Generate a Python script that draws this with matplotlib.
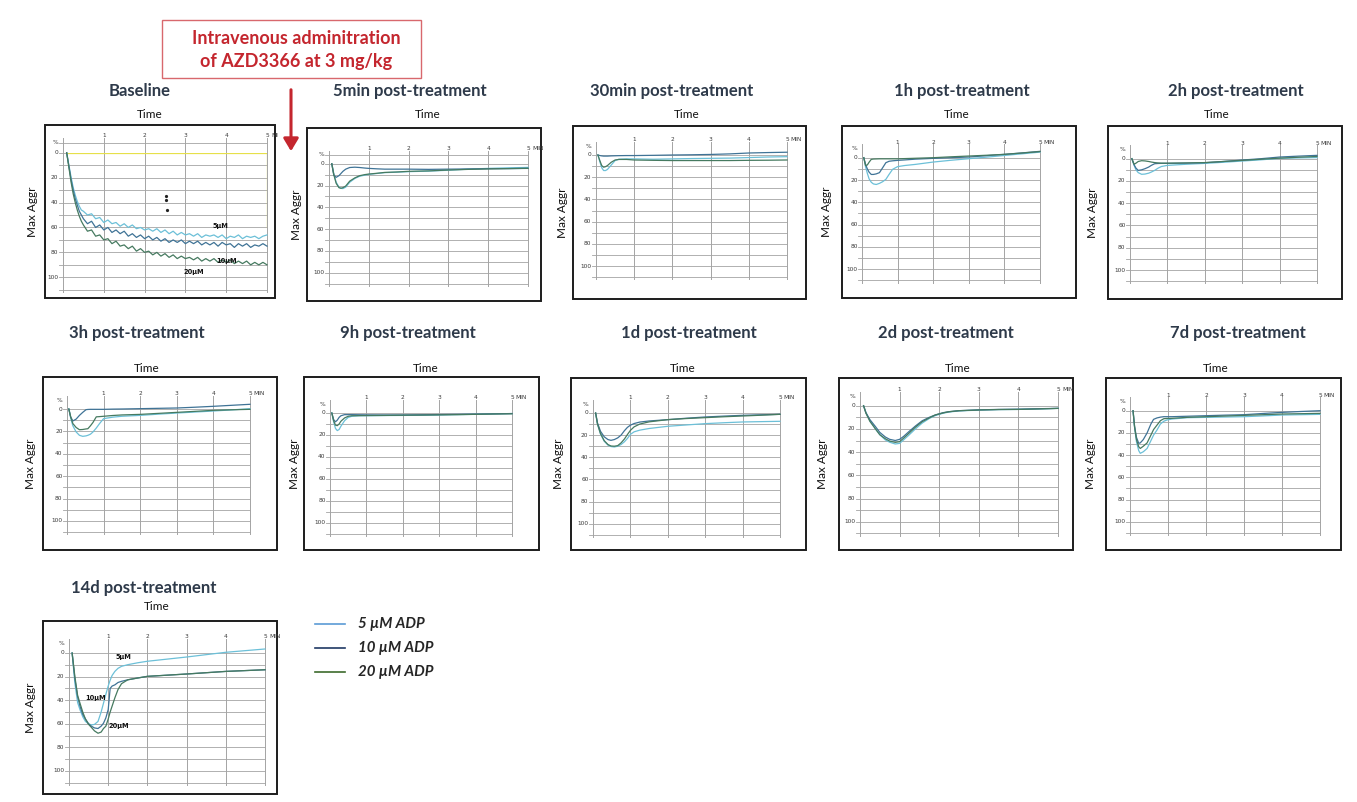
import matplotlib
matplotlib.use("Agg")
import matplotlib.pyplot as plt
from matplotlib.patches import Rectangle, FancyArrowPatch
from matplotlib.lines import Line2D

# ---------------------------------------------------------------- data ----
concentrations = ["5 µM ADP", "10 µM ADP", "20 µM ADP"]
panel_titles = ["Baseline", "5min post-treatment", "30min post-treatment",
                "1h post-treatment", "2h post-treatment", "3h post-treatment",
                "9h post-treatment", "1d post-treatment", "2d post-treatment",
                "7d post-treatment", "14d post-treatment"]
y_tick_values = [0, 20, 40, 60, 80, 100]
x_tick_values = [1, 2, 3, 4, 5]

# Baseline (aggregation %, time in minutes)
t_base = [0.09, 0.15, 0.2, 0.25, 0.3, 0.35, 0.4, 0.45, 0.5,
          0.6, 0.7, 0.8, 0.9, 1.0, 1.1, 1.2, 1.3, 1.4, 1.5,
          1.6, 1.7, 1.8, 1.9, 2.0, 2.1, 2.2, 2.3, 2.4, 2.5,
          2.6, 2.7, 2.8, 2.9, 3.0, 3.1, 3.2, 3.3, 3.4, 3.5,
          3.6, 3.7, 3.8, 3.9, 4.0, 4.1, 4.2, 4.3, 4.4, 4.5,
          4.6, 4.7, 4.8, 4.9, 5.0]
base_5 = [0, 11, 20, 28, 34, 39, 43, 46, 47,
          50, 49, 53, 52, 56, 54, 57, 56, 59, 57,
          60, 58, 61, 60, 62, 61, 63, 61, 64, 62,
          65, 63, 66, 64, 66, 65, 67, 65, 68, 66,
          67, 66, 68, 66, 69, 67, 68, 66, 69, 67,
          68, 67, 69, 67, 66]
base_10 = [0, 12, 22, 30, 37, 42, 47, 50, 53,
           57, 55, 60, 58, 62, 60, 64, 62, 65, 63,
           67, 65, 68, 66, 69, 67, 70, 68, 71, 69,
           72, 70, 72, 70, 73, 71, 73, 71, 74, 72,
           74, 72, 75, 72, 74, 73, 76, 73, 75, 73,
           76, 74, 75, 73, 75]
base_20 = [0, 13, 24, 33, 40, 46, 51, 55, 58,
           63, 62, 67, 66, 70, 69, 73, 71, 75, 74,
           77, 75, 79, 77, 80, 79, 82, 80, 83, 81,
           84, 82, 85, 83, 85, 84, 86, 84, 87, 85,
           87, 85, 88, 86, 88, 86, 89, 87, 89, 87,
           90, 88, 90, 88, 90]

t_5min = [0.07, 0.12, 0.18, 0.25, 0.3, 0.35, 0.42, 0.52, 0.65, 0.77, 0.9,
          1.0, 1.2, 1.4, 1.7, 2.0, 2.5, 3.0, 3.5, 4.0, 4.5, 5.0]
m5_5 = [0, 9, 17, 21.5, 22.6, 22.8, 21.5, 17, 13.5, 11.5, 10.5,
        9.8, 9, 8.2, 7.8, 7.3, 6.8, 6, 5, 4.3, 3.8, 3.4]
m5_10 = [0, 10.5, 12.5, 11, 9, 7, 5, 3.5, 3.2, 3.5, 4,
         4.3, 4.7, 5, 5, 5, 5.2, 5, 4.8, 4.6, 4.5, 4.3]
m5_20 = [0, 10, 18, 22, 22.5, 22, 20.5, 16, 13, 11, 10,
         9.5, 8.8, 8, 7.6, 7.0, 6.6, 5.8, 5.2, 4.8, 4.5, 4.2]

t_30min = [0.05, 0.1, 0.15, 0.2, 0.25, 0.3, 0.4, 0.5, 0.6, 0.8, 1.0,
           1.5, 2.0, 2.5, 3.0, 3.5, 4.0, 4.5, 5.0]
m30_5 = [0, 6, 11.5, 14, 14, 13, 9, 5, 3.8, 3.5, 3.5,
         3.8, 3.5, 3.2, 3, 2.8, 2.3, 1.8, 1.5]
m30_10 = [0, 0.5, 0.8, 1, 1, 1, 0.8, 0.7, 0.6, 0.5, 0.5,
          0.3, 0, -0.2, -0.5, -1, -1.8, -2.2, -2.5]
m30_20 = [0, 5, 9.5, 11, 10.5, 9.5, 6.5, 4.5, 4, 4, 4.5,
          4.8, 5, 5, 5, 5, 4.8, 4.7, 4.5]

t_1h = [0.05, 0.1, 0.15, 0.2, 0.26, 0.32, 0.4, 0.49, 0.58, 0.67, 0.76,
        0.86, 1.0, 1.2, 1.5, 2.0, 2.5, 3.0, 3.5, 4.0, 4.5, 5.0]
h1_5 = [0, 8, 14, 19, 22, 23.5, 24, 23, 21.5, 19.4, 15,
        10.4, 8, 7, 6, 3.9, 2.3, 0.9, -0.5, -2, -3.5, -5]
h1_10 = [0, 6, 10, 13, 15, 15, 14.5, 13.4, 9, 4.5, 3.2,
         2.8, 2.4, 2, 1.3, 0.6, 0, -0.6, -1.8, -3, -4.3, -5.7]
h1_20 = [0, 7, 6.5, 4, 1.5, 1.2, 1.1, 1, 1, 1, 1,
         1, 1, 0.8, 0.5, 0, -0.8, -1.5, -2.2, -3, -4.2, -5.5]

t_2h = [0.05, 0.11, 0.16, 0.22, 0.31, 0.4, 0.5, 0.57, 0.66, 0.75, 0.84,
        1.0, 1.5, 2.0, 2.5, 3.0, 3.5, 4.0, 4.5, 5.0]
h2_5 = [0, 6, 10, 12.5, 14, 13.8, 13, 12, 10.5, 8.5, 7,
        6, 5, 4.2, 3.2, 2.1, 1, -0.3, -0.7, -1]
h2_10 = [0, 5.5, 8.5, 10.5, 10, 9, 7.5, 6, 4.5, 4.3, 4.2,
         4.2, 4, 3.6, 2.5, 1.2, 0, -1.5, -2.3, -3]
h2_20 = [0, 5, 4, 2.5, 1.8, 2, 2.5, 3, 3.5, 3.8, 4,
         4, 3.8, 3.5, 2.5, 1.5, 0.5, -0.5, -1.3, -2]

t_3h = [0.05, 0.1, 0.16, 0.25, 0.34, 0.43, 0.52, 0.57, 0.64, 0.71, 0.8,
        0.89, 1.0, 1.25, 1.5, 2.0, 2.5, 3.0, 3.5, 4.0, 4.5, 5.0]
h3_5 = [0, 8, 15, 20.5, 23.5, 24.4, 24, 23.5, 22.5, 20.5, 17,
        13, 8.6, 7.3, 6.5, 5.7, 4.6, 3.6, 2.7, 1.8, 0.8, -0.3]
h3_10 = [0, 7, 10.7, 9, 5.7, 3, 0.6, 0.4, 0.3, 0.3, 0.3,
         0.3, 0.3, 0.1, 0, -0.3, -0.6, -0.9, -1.6, -2.4, -3.3, -4.2]
h3_20 = [0, 7, 13, 16.5, 18.5, 18.3, 17.8, 17.6, 15, 12, 7,
         6.8, 6.5, 5.8, 5.3, 4.8, 3.9, 3, 2.1, 1.2, 0.7, 0.3]

t_9h = [0.05, 0.1, 0.15, 0.2, 0.25, 0.3, 0.4, 0.5, 0.6, 0.8, 1.0,
        1.5, 2.0, 2.5, 3.0, 3.5, 4.0, 4.5, 5.0]
h9_5 = [0, 8, 14, 16, 15, 12, 7, 4, 3, 2.5, 2.5,
        2.3, 2.2, 2, 1.8, 1.5, 1.2, 0.8, 0.5]
h9_10 = [0, 6, 8, 6.5, 4, 2.5, 1.5, 1.5, 1.5, 1.6, 1.7,
         1.8, 1.8, 1.6, 1.4, 1.2, 1, 0.8, 0.5]
h9_20 = [0, 7, 11, 11.5, 10, 7.5, 4.5, 3, 2.5, 2.4, 2.3,
         2.2, 2, 1.9, 1.7, 1.5, 1.2, 0.9, 0.7]

t_1d = [0.07, 0.12, 0.2, 0.3, 0.4, 0.48, 0.57, 0.66, 0.75, 0.84, 0.92,
        1.0, 1.1, 1.25, 1.5, 2.0, 2.5, 3.0, 3.5, 4.0, 4.5, 5.0]
d1_5 = [0, 10, 19, 25.5, 29, 30.3, 30.7, 30, 28.5, 26, 23,
        19.3, 17, 15.5, 14, 12, 10.8, 9.6, 8.8, 8.1, 7.8, 7.5]
d1_10 = [0, 9, 16.5, 21.5, 24, 24.7, 24, 22.5, 20, 16, 13,
         11, 9.5, 8.2, 7.2, 6, 4.7, 3.6, 2.8, 2.1, 1.6, 1.2]
d1_20 = [0, 10, 18.5, 25, 28.5, 29.8, 30, 29.5, 27, 23.5, 19.5,
         15.7, 12.5, 10, 8, 6, 5, 4.2, 3.4, 2.7, 2, 1.2]

t_2d = [0.09, 0.15, 0.25, 0.39, 0.5, 0.64, 0.75, 0.89, 1.0, 1.1, 1.23,
        1.4, 1.57, 1.75, 1.9, 2.1, 2.24, 2.5, 3.0, 3.5, 4.0, 4.5, 5.0]
d2_5 = [0, 6, 13, 20, 25, 29.5, 31.5, 33, 32.5, 29.5, 25.5,
        20, 15, 11, 8.5, 6.5, 5.5, 4.5, 3.8, 3.4, 3.2, 2.8, 2.3]
d2_10 = [0, 6, 12, 18, 23, 27, 29, 30, 29, 26.5, 22.5,
         17.5, 13, 10, 8, 6, 5.2, 4.3, 3.6, 3.2, 3, 2.6, 2.3]
d2_20 = [0, 6.5, 13.5, 20, 25, 28.5, 30.5, 31.6, 31, 28, 23.9,
         18.5, 13.8, 10.5, 8, 6.2, 5.2, 4.3, 3.7, 3.3, 3.2, 2.8, 2.3]

t_7d = [0.08, 0.12, 0.17, 0.23, 0.27, 0.35, 0.45, 0.55, 0.62, 0.71, 0.8,
        0.89, 0.97, 1.1, 1.5, 2.0, 2.5, 3.0, 3.5, 4.0, 4.5, 5.0]
d7_5 = [0, 15, 28, 36, 38.4, 37, 34, 27, 22, 17.4, 12,
        9.5, 8.4, 7.5, 6.3, 6, 5.7, 5.4, 4.7, 3.9, 3.6, 3.3]
d7_10 = [0, 14, 24, 29.4, 29, 26, 20, 12, 7.8, 6.5, 5.8,
         5.4, 5.4, 5.4, 5, 4.5, 4, 3.6, 2.5, 1.5, 0.7, 0]
d7_20 = [0, 14.5, 26, 32.5, 34, 32, 29, 22, 17, 13, 9,
         7.2, 7, 6.9, 6, 5.4, 4.8, 4.2, 3.6, 3, 2.7, 2.4]

t_14d = [0.08, 0.15, 0.22, 0.28, 0.35, 0.42, 0.5, 0.57, 0.65, 0.74, 0.82,
         0.88, 0.94, 1.0, 1.05, 1.1, 1.17, 1.25, 1.34, 1.5, 1.75, 2.0,
         2.5, 3.0, 3.5, 4.0, 4.5, 5.0]
d14_5 = [0, 25.5, 42, 48, 54, 58, 60, 61, 60.5, 58, 50,
         42.5, 35, 28, 23, 19, 15.6, 13, 11.3, 9.9, 8.3, 7,
         5.2, 3.4, 1.4, -0.6, -2, -3.4]
d14_10 = [0, 22, 37, 45, 52, 56, 60, 62, 63.5, 64, 62,
          59.5, 55, 48, 30, 28, 27, 25, 24, 22.7, 21.2, 19.8,
          18.8, 17.8, 16.7, 15.6, 14.9, 14.2]
d14_20 = [0, 20, 36, 42.5, 50, 56, 60.5, 63, 66, 68, 67,
          64, 62, 56, 50, 45, 38, 31, 26, 22.7, 21.2, 19.8,
          18.8, 17.8, 16.7, 15.6, 14.9, 14.2]

series_time = [t_base, t_5min, t_30min, t_1h, t_2h, t_3h, t_9h, t_1d, t_2d, t_7d, t_14d]
series_5 = [base_5, m5_5, m30_5, h1_5, h2_5, h3_5, h9_5, d1_5, d2_5, d7_5, d14_5]
series_10 = [base_10, m5_10, m30_10, h1_10, h2_10, h3_10, h9_10, d1_10, d2_10, d7_10, d14_10]
series_20 = [base_20, m5_20, m30_20, h1_20, h2_20, h3_20, h9_20, d1_20, d2_20, d7_20, d14_20]

# ------------------------------------------------------------- layout ----
W, H = 1357, 802
fig = plt.figure(figsize=(W / 100, H / 100), dpi=100)
fig.patch.set_facecolor("white")


def fx(px):
    return px / W


def fy(py):
    return 1 - py / H


# outer frame (left, top, right, bottom) in pixels
frames = [(45, 125, 275, 298), (307, 128, 541, 301), (573, 126, 806, 299),
          (842, 126, 1076, 298), (1108, 126, 1342, 299),
          (43, 377, 277, 550), (304, 377, 539, 550), (571, 378, 806, 550),
          (839, 378, 1073, 550), (1106, 378, 1341, 550),
          (43, 621, 277, 794)]
# trace area: x at 0 min, x at 5 min, y at 0 %, y at 100 %
plot_areas = [(63, 267, 152.7, 277.3), (329, 528, 163.7, 272.7),
              (596, 787, 155, 266), (862, 1040, 157.7, 269.3),
              (1130, 1317, 158.7, 270),
              (67, 250, 409, 521), (330, 512, 413, 523),
              (593, 780, 413, 523.7), (860, 1058, 405.7, 521.7),
              (1130, 1320, 410.7, 521.7),
              (69, 265, 653, 771)]
title_x = [140, 410, 672, 962, 1236, 137, 408, 689, 946, 1238, 144]
title_y = [91, 91, 91, 91, 91, 333, 333, 333, 333, 333, 588]
time_x = [150, 428, 687, 957, 1217, 147, 426, 683, 958, 1216, 157]
time_y = [115, 115, 115, 115, 115, 368, 368, 368, 368, 368, 607]
aggr_x = [32, 296, 563, 826, 1093, 30, 294, 558, 823, 1091, 30]

trace_colors = ["#6cc0d8", "#3f7396", "#467a60"]
legend_colors = ["#5b9bd5", "#1f3864", "#3d6b2c"]
grid_color = "#a4a4a4"
title_color = "#2e3a4a"
red = "#c4262e"

tick_font = dict(fontsize=4.2, color="#3a3a3a", family="DejaVu Sans")

for i, title in enumerate(panel_titles):
    L, T, R, B = frames[i]
    fig.add_artist(Rectangle((fx(L), fy(B)), fx(R) - fx(L), (B - T) / H,
                             transform=fig.transFigure, facecolor="white",
                             edgecolor="#1c1c1c", linewidth=1.4, zorder=1))
    x0, x5, y0, y100 = plot_areas[i]
    ax = fig.add_axes([fx(x0), fy(y100), fx(x5) - fx(x0), (y100 - y0) / H])
    ax.set_xlim(0, 5)
    ax.set_ylim(100, 0)
    ax.axis("off")
    ax.patch.set_alpha(0)
    ax.set_zorder(2)

    # recorder grid
    for v in range(0, 111, 10):
        ax.plot([-0.1, 5], [v, v], color=grid_color, lw=0.6, clip_on=False, zorder=1)
    if i in (0, 1):
        ax.plot([-0.1, 5], [-8, -8], color=grid_color, lw=0.6, clip_on=False, zorder=1)
    for k in range(0, 6):
        ax.plot([k, k], [-12, 112], color=grid_color, lw=0.7, clip_on=False, zorder=1)

    ax.text(-0.12, -8, "%", ha="right", va="center", **tick_font)
    for v in y_tick_values:
        ax.text(-0.12, v, str(v), ha="right", va="center", **tick_font)
    for k in x_tick_values:
        ax.text(k, -14, str(k), ha="center", va="center", **tick_font)
    ax.text(5.1, -14, "MI" if i == 0 else "MIN", ha="left", va="center", **tick_font)

    if i == 0:
        # reference box drawn by the recorder
        ax.plot([0.09, 5], [0, 0], color="#e6e04a", lw=0.9, zorder=2)
        ax.plot([5, 5], [0, 60], color="#e6e04a", lw=0.9, zorder=2)
        ax.plot([2.52, 2.52, 2.54], [35, 38, 46], ls="none", marker="o",
                ms=1.3, color="#222222", zorder=3)

    t = series_time[i]
    for vals, c in zip([series_5[i], series_10[i], series_20[i]], trace_colors):
        ax.plot(t, vals, color=c, lw=0.9, zorder=3, clip_on=False,
                solid_joinstyle="round")

    fig.text(fx(title_x[i]), fy(title_y[i]), title, ha="center", va="center",
             fontsize=12, fontweight="bold", family="Lato", color=title_color)
    fig.text(fx(time_x[i]), fy(time_y[i]), "Time", ha="center", va="center",
             fontsize=8.5, family="Lato", color="#111111")
    fig.text(fx(aggr_x[i]), fy((T + B) / 2), "Max Aggr", ha="center", va="center",
             rotation=90, fontsize=8.5, family="Lato", color="#111111")

# concentration labels on the traces
label_font = dict(fontsize=4.8, fontweight="bold", color="#111111", family="DejaVu Sans",
                  ha="center", va="center", zorder=4)
axes_list = fig.axes
axes_list[0].text(3.87, 58.5, "5µM", **label_font)
axes_list[0].text(4.02, 87, "10µM", **label_font)
axes_list[0].text(3.2, 96, "20µM", **label_font)
axes_list[10].text(1.4, 3, "5µM", **label_font)
axes_list[10].text(0.68, 38, "10µM", **label_font)
axes_list[10].text(1.28, 62, "20µM", **label_font)

# legend
for j, (lab, c) in enumerate(zip(concentrations, legend_colors)):
    yy = 624 + 24 * j
    fig.add_artist(Line2D([fx(315), fx(345)], [fy(yy), fy(yy)], color=c, lw=1.2,
                          transform=fig.transFigure))
    fig.text(fx(358), fy(yy), lab, ha="left", va="center", fontsize=10.8,
             fontweight="bold", fontstyle="italic", family="Lato", color="#262626")

# dosing annotation
fig.add_artist(Rectangle((fx(162), fy(78)), fx(421) - fx(162), (78 - 20) / H,
                         transform=fig.transFigure, facecolor="white",
                         edgecolor="#d8686d", linewidth=1.0, zorder=3))
fig.text(fx(296), fy(39), "Intravenous adminitration", ha="center", va="center",
         fontsize=13, fontweight="bold", family="Lato", color=red, zorder=4)
fig.text(fx(296), fy(62), "of AZD3366 at 3 mg/kg", ha="center", va="center",
         fontsize=13, fontweight="bold", family="Lato", color=red, zorder=4)
fig.add_artist(FancyArrowPatch((fx(291), fy(87)), (fx(291), fy(154)),
                               transform=fig.transFigure, arrowstyle="-|>,head_length=5,head_width=3",
                               color=red, lw=2.2, mutation_scale=1.5, zorder=4))

fig.savefig("out.png", dpi=100, facecolor="white")
